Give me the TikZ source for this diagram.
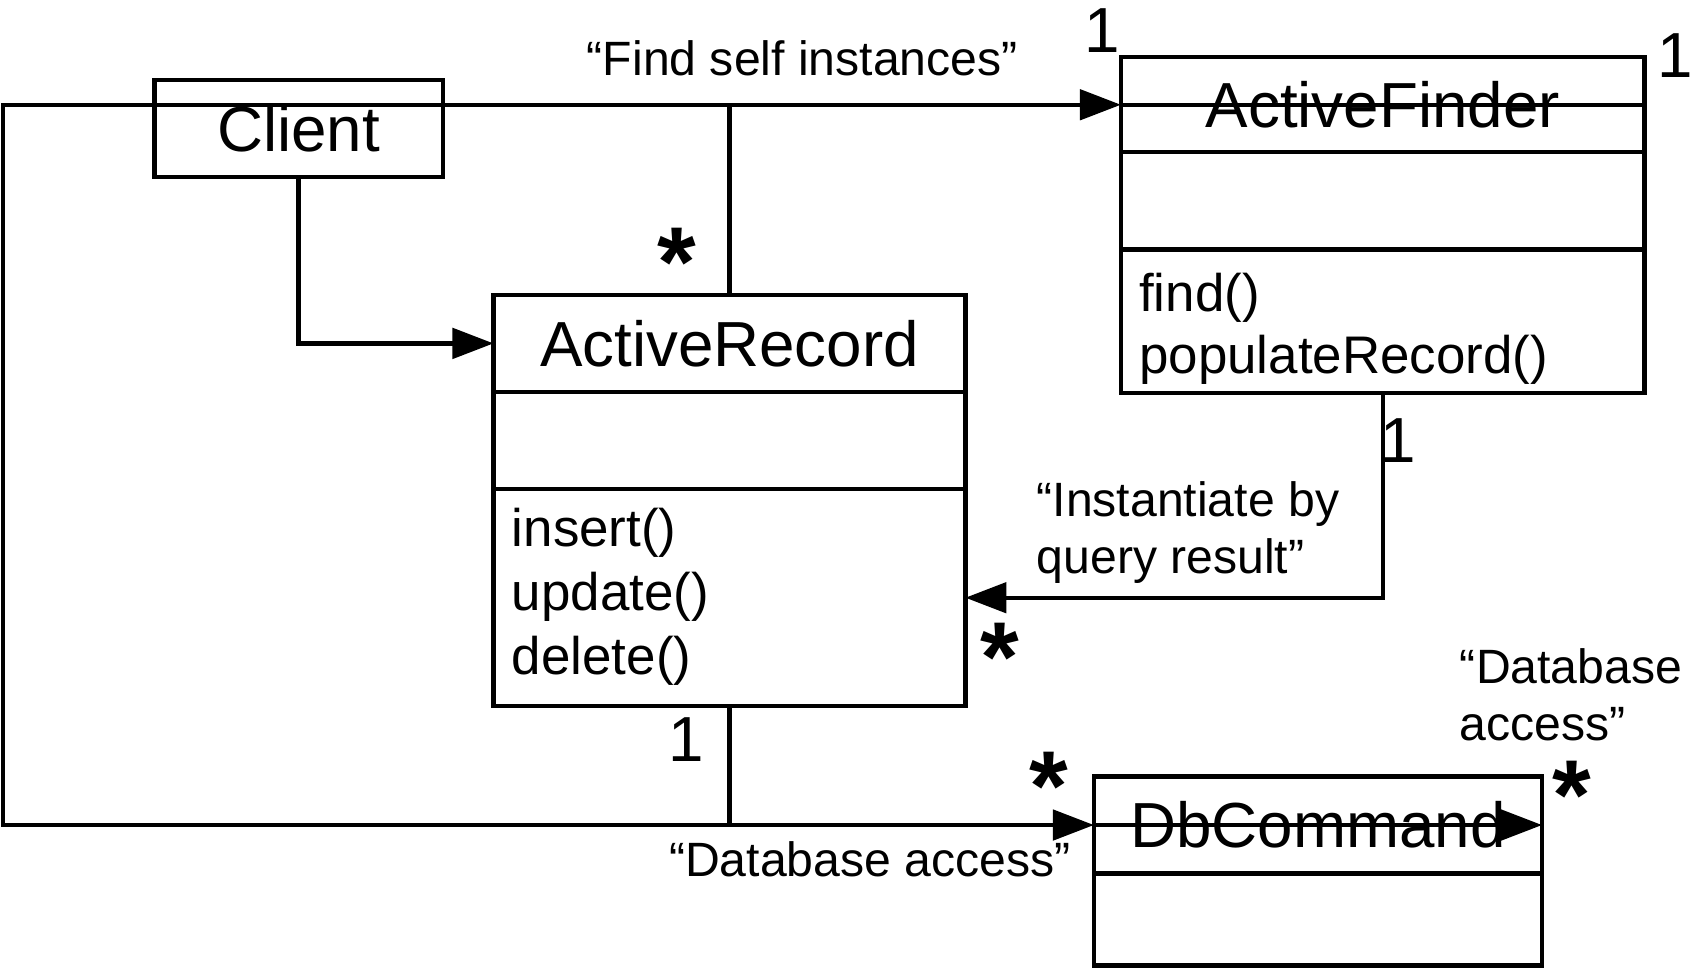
\documentclass[tikz,border=0pt]{standalone}
\usepackage{fontspec}
\setmainfont{Liberation Sans}
\usetikzlibrary{arrows.meta}
\begin{document}
\begin{tikzpicture}[x=0.5pt,y=-0.5pt,line width=2pt,
  box/.style={draw,line width=2pt,rectangle,inner sep=0pt,outer sep=0pt},
  arr/.style={-{Triangle[length=19pt,width=14pt]}},
  ttl/.style={font=\fontsize{29.5}{35}\selectfont},
  meth/.style={font=\fontsize{24.5}{29.5}\selectfont,anchor=base west,inner sep=0pt},
  lbl/.style={font=\fontsize{22.3}{26.5}\selectfont,anchor=base west,inner sep=0pt},
  mult/.style={font=\fontsize{29.5}{34}\selectfont,anchor=base,inner sep=0pt},
  star/.style={font=\fontsize{46}{46}\bfseries\selectfont,anchor=base,inner sep=0pt}]
\useasboundingbox (0,0) rectangle (1565,896);
% Client
\node[box,ttl,minimum width=133.5pt,minimum height=45pt] (client) at (276.5,119) {Client};
% ActiveRecord
\node[box,ttl,minimum width=218.5pt,minimum height=45pt] (arT) at (675.5,318) {ActiveRecord};
\node[box,minimum width=218.5pt,minimum height=45pt] (arA) at (675.5,408) {};
\node[box,minimum width=218.5pt,minimum height=100.5pt] (arM) at (675.5,553.5) {};
\node[meth] (arm1) at (472,506.5) {insert()};
\node[meth] (arm2) at (472,565.5) {update()};
\node[meth] (arm3) at (472,624.5) {delete()};
% ActiveFinder
\node[box,ttl,minimum width=242.5pt,minimum height=44pt] (afT) at (1280.5,97) {ActiveFinder};
\node[box,minimum width=242.5pt,minimum height=45pt] (afA) at (1280.5,186) {};
\node[box,minimum width=242.5pt,minimum height=66.5pt] (afM) at (1280.5,297.5) {};
\node[meth] (afm1) at (1053,288) {find()};
\node[meth] (afm2) at (1053,346) {populateRecord()};
% DbCommand
\node[box,ttl,minimum width=207.5pt,minimum height=45pt] (dbT) at (1220.5,764) {DbCommand};
\node[box,minimum width=207.5pt,minimum height=42.5pt] (dbA) at (1220.5,851.5) {};
% connectors
\coordinate (tl) at (3,97);
\coordinate (bl) at (3,764);
\draw[arr] (bl) -- (tl) -- (afT.west);
\draw (afT.west) -- (afT.east);
\draw[arr] (tl) -- (bl) -- (dbT.west);
\draw[arr] (dbT.west) -- (dbT.east);
\draw (arT.north) -- (arT.north |- tl);
\draw (arM.south) -- (arM.south |- bl);
\draw[arr] (client.south) |- (arT.west);
\draw[arr] (afM.south) |- (arM.east);
% labels
\node[lbl,anchor=base] (l1) at (743,70) {“Find self instances”};
\node[lbl] (l2) at (958,478.5) {“Instantiate by};
\node[lbl] (l3) at (958,531.5) {query result”};
\node[lbl] (l4) at (1350,633) {“Database};
\node[lbl] (l5) at (1350,686) {access”};
\node[lbl,anchor=base] (l6) at (805.5,812) {“Database access”};
% multiplicities
\node[mult] (n1) at (1021,49) {1};
\node[mult] (n2) at (1551,72) {1};
\node[mult] (n3) at (1295,428) {1};
\node[mult] (n4) at (635,705) {1};
\node[star] (s1) at (627,275) {*};
\node[star] (s2) at (926,640) {*};
\node[star] (s3) at (971,760) {*};
\node[star] (s4) at (1456,768) {*};
\end{tikzpicture}
\end{document}
